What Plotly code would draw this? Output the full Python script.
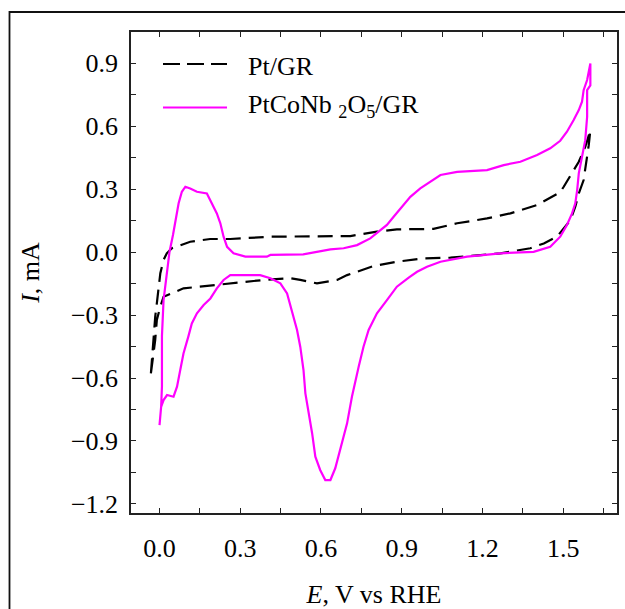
import plotly.graph_objects as go

# ---- data (E in V vs RHE, I in mA) ----
pt_gr_E = [-0.032, -0.028, -0.022, -0.016, -0.010, -0.004, 0.003, 0.015, 0.027, 0.046, 0.077, 0.114,
           0.188, 0.263, 0.412, 0.635, 0.709, 0.808, 0.882, 1.018, 1.106, 1.217, 1.304, 1.403, 1.489,
           1.502, 1.558, 1.582, 1.601, 1.601,
           1.595, 1.589, 1.576, 1.558, 1.545, 1.527, 1.502, 1.477, 1.428, 1.378, 1.267, 1.143, 1.081,
           0.981, 0.882, 0.795, 0.697, 0.660, 0.585, 0.523, 0.486, 0.387, 0.263, 0.188, 0.089, 0.065,
           0.015, 0.003, -0.010, -0.016, -0.025, -0.032]
pt_gr_I = [-0.578, -0.514, -0.387, -0.308, -0.244, -0.165, -0.101, -0.038, -0.006, 0.018, 0.033, 0.049,
           0.062, 0.062, 0.073, 0.073, 0.076, 0.097, 0.108, 0.110, 0.137, 0.160, 0.184, 0.224, 0.285,
           0.311, 0.430, 0.501, 0.573, 0.580,
           0.509, 0.454, 0.343, 0.279, 0.216, 0.152, 0.113, 0.073, 0.041, 0.018, -0.006, -0.022, -0.027,
           -0.030, -0.046, -0.067, -0.110, -0.133, -0.149, -0.133, -0.125, -0.133, -0.149, -0.162, -0.173, -0.186,
           -0.213, -0.260, -0.324, -0.419, -0.514, -0.578]

ptco_E = [0.000, 0.006, 0.009, 0.009, 0.015, 0.021, 0.027, 0.037, 0.050, 0.058, 0.071, 0.083, 0.096,
          0.114, 0.139, 0.176, 0.195, 0.213, 0.226, 0.238, 0.251, 0.275, 0.319, 0.399, 0.412, 0.534,
          0.635, 0.684, 0.734, 0.783, 0.814, 0.845, 0.870, 0.895, 0.932, 0.969, 1.006, 1.044, 1.106,
          1.217, 1.279, 1.341, 1.403, 1.452, 1.489, 1.514, 1.539, 1.558, 1.570, 1.576, 1.589, 1.601, 1.601,
          1.601, 1.589, 1.589, 1.582, 1.570, 1.558, 1.552, 1.545, 1.533, 1.514, 1.489, 1.452, 1.390,
          1.267, 1.143, 1.081, 1.044, 0.994, 0.957, 0.926, 0.882, 0.845, 0.808, 0.777, 0.758, 0.740,
          0.715, 0.697, 0.672, 0.653, 0.635, 0.616, 0.597, 0.579, 0.567, 0.554, 0.542, 0.535, 0.523,
          0.511, 0.492, 0.474, 0.449, 0.412, 0.374, 0.263, 0.238, 0.213, 0.189, 0.164, 0.139, 0.120,
          0.107, 0.089, 0.077, 0.065, 0.052, 0.028, 0.015, 0.006, 0.000]
ptco_I = [-0.824, -0.737, -0.640, -0.400, -0.229, -0.165, -0.086, 0.000, 0.081, 0.144, 0.232, 0.287, 0.311,
          0.303, 0.287, 0.279, 0.232, 0.184, 0.137, 0.073, 0.025, -0.006, -0.022, -0.022, -0.014, -0.011,
          0.013, 0.018, 0.033, 0.065, 0.097, 0.129, 0.168, 0.208, 0.263, 0.303, 0.335, 0.367, 0.382,
          0.390, 0.414, 0.430, 0.462, 0.494, 0.530, 0.573, 0.629, 0.676, 0.716, 0.771, 0.819, 0.890, 0.898,
          0.794, 0.771, 0.644, 0.533, 0.454, 0.375, 0.295, 0.232, 0.184, 0.129, 0.073, 0.025, 0.001,
          -0.006, -0.022, -0.038, -0.046, -0.070, -0.094, -0.122, -0.165, -0.229, -0.292, -0.371, -0.451, -0.546,
          -0.689, -0.816, -0.943, -1.030, -1.086, -1.086, -1.038, -0.975, -0.863, -0.768, -0.673, -0.562, -0.451,
          -0.371, -0.276, -0.197, -0.149, -0.125, -0.110, -0.110, -0.133, -0.173, -0.221, -0.252, -0.292, -0.340,
          -0.403, -0.483, -0.562, -0.641, -0.689, -0.681, -0.705, -0.737, -0.824]

x_tickvals = [0.0, 0.3, 0.6, 0.9, 1.2, 1.5]
x_ticktext = ["0.0", "0.3", "0.6", "0.9", "1.2", "1.5"]
x_minorvals = [0.15, 0.45, 0.75, 1.05, 1.35, 1.65]
y_tickvals = [-1.2, -0.9, -0.6, -0.3, 0.0, 0.3, 0.6, 0.9]
y_ticktext = ["\u22121.2", "\u22120.9", "\u22120.6", "\u22120.3", "0.0", "0.3", "0.6", "0.9"]
y_minorvals = [-1.05, -0.75, -0.45, -0.15, 0.15, 0.45, 0.75, 1.05]

series_names = ["Pt/GR", "PtCoNb <sub>2</sub>O<sub>5</sub>/GR"]

FONT = "Liberation Serif"
FS = 26
W, H = 625, 609
L, R, T, B = 131, 8, 32, 96
pw, ph = W - L - R, H - T - B


def px2paper(px, py):
    return (px - L) / pw, (H - B - py) / ph


fig = go.Figure()
fig.add_trace(go.Scatter(x=pt_gr_E, y=pt_gr_I, mode="lines", name=series_names[0],
                         line=dict(color="black", width=2.2, dash="15px,8px"), showlegend=False))
fig.add_trace(go.Scatter(x=ptco_E, y=ptco_I, mode="lines", name=series_names[1],
                         line=dict(color="#ff00ff", width=2.2), showlegend=False))

axis_common = dict(showline=True, linecolor="#222", linewidth=1.5, mirror="allticks",
                   ticks="inside", ticklen=5, tickcolor="#222", tickwidth=1.2,
                   showgrid=False, zeroline=False, tickmode="array", automargin=False,
                   tickfont=dict(family=FONT, size=FS, color="black"))

fig.update_xaxes(range=[-0.106, 1.700], tickvals=x_tickvals, ticktext=x_ticktext,
                 minor=dict(tickmode="array", tickvals=x_minorvals, ticks="inside", ticklen=5,
                            tickcolor="#222", tickwidth=1.2, showgrid=False),
                 ticklabelstandoff=11,
                 title=dict(text="<i>E</i>, V vs RHE", font=dict(family=FONT, size=FS, color="black"),
                            standoff=25),
                 **axis_common)
fig.update_yaxes(range=[-1.243, 1.048], tickvals=y_tickvals, ticktext=y_ticktext,
                 minor=dict(tickmode="array", tickvals=y_minorvals, ticks="inside", ticklen=5,
                            tickcolor="#222", tickwidth=1.2, showgrid=False),
                 ticklabelstandoff=6,
                 title=dict(text="<i>I</i>, mA", font=dict(family=FONT, size=FS, color="black"),
                            standoff=24),
                 **axis_common)

shapes = []
# outer figure frame (left and top edges visible)
x0, y0 = px2paper(9.5, 640)
x1, y1 = px2paper(9.5, 12)
x2, _ = px2paper(660, 12)
shapes.append(dict(type="path", xref="paper", yref="paper",
                   path=f"M {x0} {y0} L {x1} {y1} L {x2} {y1}",
                   line=dict(color="#111", width=1.8)))
# manual legend samples
lx0, ly0 = px2paper(163, 64)
lx1, ly1 = px2paper(227, 107.5)
shapes.append(dict(type="line", xref="paper", yref="paper", x0=lx0, x1=lx1, y0=ly0, y1=ly0,
                   line=dict(color="black", width=2.2, dash="17px,7px")))
shapes.append(dict(type="line", xref="paper", yref="paper", x0=lx0, x1=lx1, y0=ly1, y1=ly1,
                   line=dict(color="#ff00ff", width=2.2)))

tx, ty0 = px2paper(246, 66)
_, ty1 = px2paper(246, 106)
annotations = [
    dict(text=series_names[0], x=tx, y=ty0, xref="paper", yref="paper", xanchor="left",
         yanchor="middle", showarrow=False, font=dict(family=FONT, size=FS, color="black")),
    dict(text=series_names[1], x=tx, y=ty1, xref="paper", yref="paper", xanchor="left",
         yanchor="middle", showarrow=False, font=dict(family=FONT, size=FS, color="black")),
]

fig.update_layout(width=W, height=H, margin=dict(l=L, r=R, t=T, b=B, autoexpand=False),
                  paper_bgcolor="white", plot_bgcolor="white",
                  shapes=shapes, annotations=annotations,
                  font=dict(family=FONT, size=FS, color="black"))

fig.write_html("out.html", config={"displayModeBar": False},
               post_script="document.body.style.margin='0';"
                           "document.documentElement.style.overflow='hidden';")
